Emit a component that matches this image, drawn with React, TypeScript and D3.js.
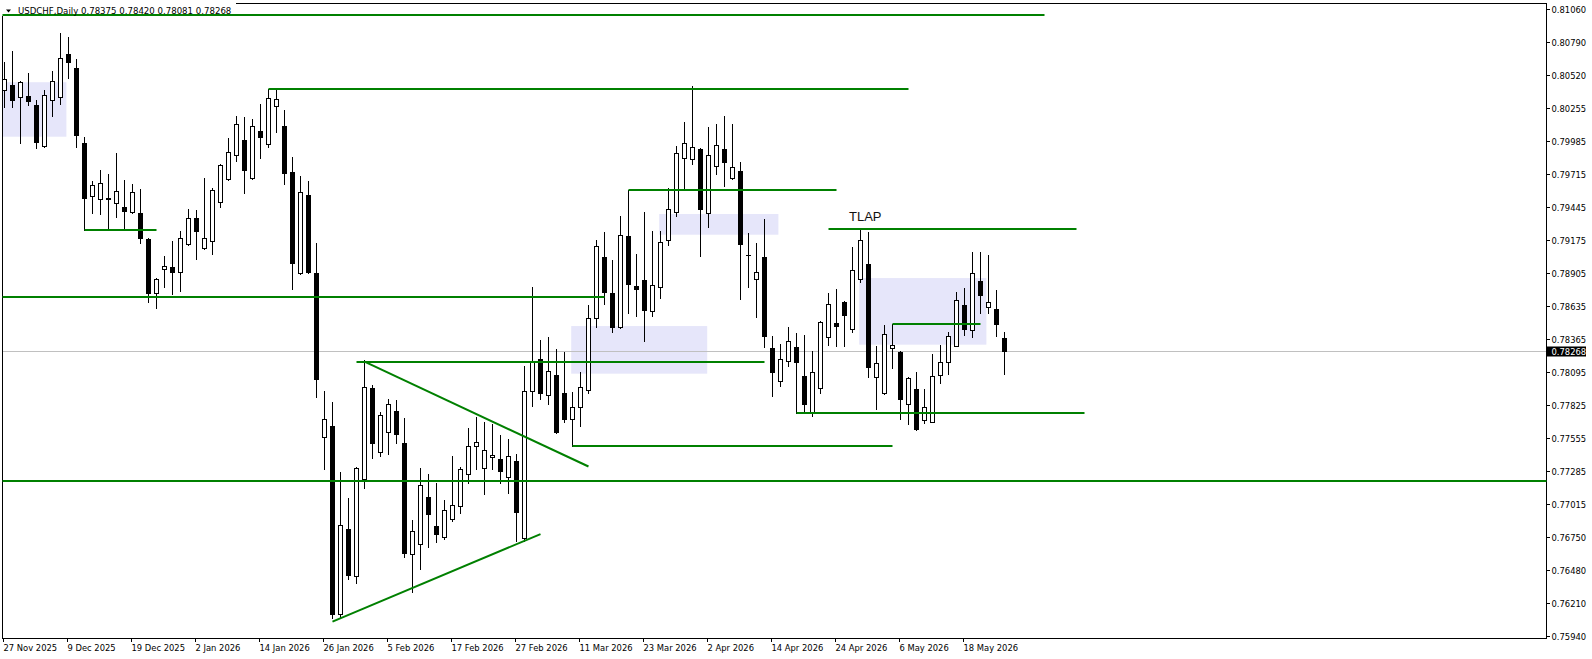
import * as d3 from "d3";

// daily USDCHF bars, oldest first (27 Nov 2025 .. 25 May 2026)
const opens = [
  0.80399, 0.8044, 0.80344, 0.8035, 0.80276, 0.79944, 0.80317, 0.80344, 0.80693, 0.80576,
  0.79963, 0.79533, 0.79509, 0.79517, 0.79473, 0.79441, 0.79405, 0.79392, 0.79179, 0.78739,
  0.78939, 0.78956, 0.78915, 0.79141, 0.79351, 0.79106, 0.79166, 0.79482, 0.79672, 0.79865,
  0.7999, 0.79678, 0.80064, 0.79955, 0.80268, 0.80105, 0.79727, 0.78907, 0.79541, 0.78902,
  0.77563, 0.77655, 0.7612, 0.76814, 0.76432, 0.7722, 0.77963, 0.7744, 0.77608, 0.77775,
  0.77516, 0.76607, 0.76689, 0.77075, 0.76838, 0.76746, 0.76898, 0.77002, 0.7726, 0.77489,
  0.77309, 0.77399, 0.77383, 0.77241, 0.77369, 0.76738, 0.77941, 0.782, 0.77906, 0.78069,
  0.77922, 0.7771, 0.77808, 0.77949, 0.78534, 0.79035, 0.78739, 0.78466, 0.79206, 0.78798,
  0.78845, 0.78592, 0.78792, 0.79171, 0.79405, 0.79841, 0.79833, 0.79914, 0.79392, 0.79776,
  0.79914, 0.79678, 0.79737, 0.79052, 0.78853, 0.79032, 0.78289, 0.78025, 0.78188, 0.78302,
  0.78063, 0.77767, 0.77963, 0.78379, 0.78494, 0.78667, 0.78445, 0.78858, 0.78978, 0.78053,
  0.77922, 0.78289, 0.78257, 0.77832, 0.77955, 0.77701, 0.7769, 0.78071, 0.7818, 0.78311,
  0.78641, 0.78439, 0.78839, 0.78624, 0.7861, 0.78375,
];
const highs = [
  0.8063, 0.8072, 0.8047, 0.80535, 0.80317, 0.80399, 0.80554, 0.80862, 0.80834, 0.80652,
  0.80017, 0.79656, 0.79745, 0.79713, 0.79882, 0.79664, 0.79631, 0.79588, 0.79188, 0.78863,
  0.79043, 0.79168, 0.7925, 0.79427, 0.79419, 0.79678, 0.79596, 0.79794, 0.80004, 0.80186,
  0.80176, 0.80159, 0.80284, 0.8041, 0.80399, 0.80235, 0.79849, 0.79696, 0.79656, 0.79147,
  0.77941, 0.77848, 0.77277, 0.77069, 0.77323, 0.78194, 0.7799, 0.77767, 0.77873, 0.77867,
  0.77718, 0.76887, 0.77309, 0.7726, 0.77187, 0.77051, 0.7741, 0.77323, 0.77636, 0.77726,
  0.7769, 0.77669, 0.77581, 0.77549, 0.77426, 0.78145, 0.78788, 0.78357, 0.78379, 0.78281,
  0.78262, 0.7793, 0.78096, 0.78643, 0.79174, 0.79237, 0.7901, 0.7937, 0.79582, 0.79059,
  0.794, 0.79247, 0.79247, 0.79596, 0.79941, 0.80135, 0.80431, 0.79928, 0.80094, 0.80121,
  0.80186, 0.80121, 0.79808, 0.79228, 0.79147, 0.79343, 0.7839, 0.78324, 0.78461, 0.78412,
  0.78398, 0.78267, 0.78512, 0.78739, 0.78771, 0.78676, 0.79114, 0.79255, 0.79242, 0.78311,
  0.7848, 0.78488, 0.78267, 0.78057, 0.78093, 0.77957, 0.7824, 0.78316, 0.78425, 0.78747,
  0.78779, 0.79073, 0.79073, 0.79051, 0.78765, 0.7842,
];
const lows = [
  0.80262, 0.80262, 0.79963, 0.80276, 0.79923, 0.79936, 0.80189, 0.80282, 0.80499, 0.79936,
  0.79255, 0.79392, 0.79386, 0.79264, 0.79359, 0.79255, 0.79392, 0.79152, 0.7867, 0.78616,
  0.78792, 0.78733, 0.7876, 0.79133, 0.79016, 0.791, 0.79059, 0.79446, 0.79664, 0.79821,
  0.7956, 0.7967, 0.79841, 0.79936, 0.80058, 0.79629, 0.78774, 0.78896, 0.78905, 0.77889,
  0.77304, 0.76085, 0.76087, 0.76405, 0.7637, 0.77146, 0.77391, 0.77412, 0.77424, 0.77514,
  0.76583, 0.76302, 0.76487, 0.76669, 0.7671, 0.7673, 0.76882, 0.76947, 0.77192, 0.77304,
  0.771, 0.77304, 0.77187, 0.7711, 0.76716, 0.76718, 0.77818, 0.77878, 0.77832, 0.776,
  0.7769, 0.77492, 0.77657, 0.77922, 0.78466, 0.78651, 0.78425, 0.78453, 0.7858, 0.78556,
  0.78351, 0.78553, 0.78703, 0.79135, 0.79372, 0.79588, 0.79792, 0.79046, 0.79282, 0.7971,
  0.79615, 0.7967, 0.78694, 0.78792, 0.78547, 0.78302, 0.77902, 0.77984, 0.78147, 0.77763,
  0.77763, 0.77739, 0.77922, 0.78316, 0.78311, 0.78311, 0.78425, 0.78833, 0.78057, 0.77791,
  0.77914, 0.78131, 0.77712, 0.77669, 0.77622, 0.77677, 0.77685, 0.78004, 0.7808, 0.78311,
  0.78398, 0.78384, 0.78575, 0.7858, 0.7839, 0.78081,
];
const closes = [
  0.80486, 0.80317, 0.80462, 0.80311, 0.79972, 0.80358, 0.80472, 0.80658, 0.80625, 0.80031,
  0.79514, 0.79623, 0.79637, 0.79506, 0.79576, 0.79413, 0.79568, 0.79188, 0.78743, 0.78853,
  0.78961, 0.78915, 0.79188, 0.79351, 0.7925, 0.79188, 0.79582, 0.79786, 0.7989, 0.80119,
  0.79745, 0.80105, 0.80017, 0.80331, 0.80323, 0.79723, 0.78988, 0.79563, 0.7891, 0.78036,
  0.7771, 0.7612, 0.76846, 0.76438, 0.77309, 0.77971, 0.77514, 0.77742, 0.77832, 0.77592,
  0.7662, 0.76795, 0.77171, 0.76939, 0.76771, 0.76967, 0.77007, 0.77301, 0.77489, 0.77524,
  0.77456, 0.77416, 0.7729, 0.77407, 0.76955, 0.77943, 0.7818, 0.77922, 0.78104, 0.77608,
  0.7771, 0.77813, 0.77971, 0.78534, 0.79125, 0.78752, 0.78466, 0.79212, 0.78817, 0.78776,
  0.78605, 0.78804, 0.79155, 0.79424, 0.79882, 0.79963, 0.79931, 0.79429, 0.79865, 0.79947,
  0.79813, 0.79767, 0.79144, 0.7905, 0.7891, 0.78392, 0.78098, 0.782, 0.78346, 0.7818,
  0.77837, 0.78093, 0.78502, 0.78649, 0.78471, 0.78564, 0.78926, 0.79171, 0.78139, 0.78167,
  0.78404, 0.78314, 0.77878, 0.78044, 0.77633, 0.77808, 0.78061, 0.78175, 0.78387, 0.78684,
  0.78449, 0.78902, 0.78727, 0.78665, 0.78485, 0.78268,
];

// one label every 8 bars
const dateLabels = [
  "27 Nov 2025", "9 Dec 2025", "19 Dec 2025", "2 Jan 2026", "14 Jan 2026", "26 Jan 2026",
  "5 Feb 2026", "17 Feb 2026", "27 Feb 2026", "11 Mar 2026", "23 Mar 2026", "2 Apr 2026",
  "14 Apr 2026", "24 Apr 2026", "6 May 2026", "18 May 2026",
];
const priceLabels = [
  "0.81060", "0.80790", "0.80520", "0.80255", "0.79985", "0.79715", "0.79445", "0.79175",
  "0.78905", "0.78635", "0.78365", "0.78095", "0.77825", "0.77555", "0.77285", "0.77015",
  "0.76750", "0.76480", "0.76210", "0.75940",
];

// chart objects: [from bar, to bar, price]; -3 / 200 = runs off the edge
const levels: [number, number, number][] = [
  [-3, 130, 0.81014],
  [33, 113, 0.80405],
  [78, 104, 0.79582],
  [103, 134, 0.79264],
  [10, 19, 0.79255],
  [-3, 75, 0.78708],
  [44, 95, 0.78178],
  [71, 111, 0.77492],
  [99, 135, 0.77763],
  [111, 122, 0.78488],
  [-3, 200, 0.77208],
];
const trendLines: [number, number, number, number][] = [
  [45, 0.7818, 73, 0.77324],
  [41, 0.76058, 67, 0.76772],
];
// [from bar, to bar, top price, bottom price]
const zones: [number, number, number, number][] = [
  [-0.2, 7.8, 0.80462, 0.80017],
  [81.9, 96.8, 0.79386, 0.79217],
  [70.9, 87.9, 0.78471, 0.78082],
  [106.9, 122.8, 0.78863, 0.78319],
];

const lastPrice = 0.78268;
const symbolTitle = "USDCHF,Daily  0.78375 0.78420 0.78081 0.78268";

const W = 1592;
const H = 659;
const left = 2.5;
const top = 3.5;
const right = 1546.5;
const bottom = 638.5;
const font = "'DejaVu Sans', Verdana, sans-serif";

export default function App() {
  const n = opens.length;
  const x = d3.scaleLinear().domain([0, 1]).range([4, 12]);
  const y = d3.scaleLinear().domain([0.7594, 0.8106]).range([636, 9]);
  const yTick = d3.scalePoint<string>().domain(priceLabels).range([9, 636]);

  const candles = d3.range(n).map((i) => {
    const cx = Math.round(x(i));
    const o = opens[i];
    const c = closes[i];
    const yt = Math.round(y(Math.max(o, c)));
    const yb = Math.round(y(Math.min(o, c)));
    const yh = Math.round(y(highs[i]));
    const yl = Math.round(y(lows[i]));
    const up = c > o;
    return (
      <g key={i}>
        <line x1={cx + 0.5} x2={cx + 0.5} y1={yh} y2={yl + 1} stroke="#000" />
        {up ? (
          <rect x={cx - 1.5} y={yt + 0.5} width={4} height={Math.max(1, yb - yt)} fill="#fff" stroke="#000" />
        ) : (
          <rect x={cx - 2} y={yt} width={5} height={Math.max(1, yb - yt + 1)} fill="#000" />
        )}
      </g>
    );
  });

  const yp = Math.round(y(lastPrice)) + 0.5;

  return (
    <svg
      width={W}
      height={H}
      style={{ position: "absolute", left: 0, top: 0, background: "#fff" }}
    >
      <defs>
        <clipPath id="plot">
          <rect x={left} y={top} width={right - left} height={bottom - top} />
        </clipPath>
      </defs>
      <rect x={0} y={0} width={W} height={H} fill="#fff" />
      <g clipPath="url(#plot)">
        {zones.map(([a, b, p1, p2], i) => (
          <rect
            key={i}
            x={x(a)}
            y={y(p1)}
            width={x(b) - x(a)}
            height={y(p2) - y(p1)}
            fill="#E6E6FA"
          />
        ))}
        <line x1={left} x2={right} y1={yp} y2={yp} stroke="#C0C0C0" />
        {candles}
      </g>
      <rect x={left} y={top} width={right - left} height={bottom - top} fill="none" stroke="#000" />
      {/* title box hides the frame corner */}
      <rect x={0} y={0} width={236} height={16} fill="#fff" />
      <g clipPath="url(#plot)">
        {levels.map(([a, b, p], i) => (
          <line
            key={i}
            x1={x(a) + 0.5}
            x2={x(b) + 0.5}
            y1={Math.round(y(p))}
            y2={Math.round(y(p))}
            stroke="#008000"
            strokeWidth={2}
          />
        ))}
        {trendLines.map(([a, p1, b, p2], i) => (
          <line
            key={i}
            x1={x(a) + 0.5}
            y1={y(p1)}
            x2={x(b) + 0.5}
            y2={y(p2)}
            stroke="#008000"
            strokeWidth={2}
          />
        ))}
        <text x={849} y={221} fontFamily="'Liberation Sans', Arial, sans-serif" fontSize={13} fill="#111">
          TLAP
        </text>
      </g>

      {/* title */}
      <path d="M6,9.5 L11,9.5 L8.5,12.5 Z" fill="#000" />
      <text x={18} y={13.5} fontFamily={font} fontSize={8.6} fill="#000">
        {symbolTitle}
      </text>

      {/* price axis */}
      {priceLabels.map((lab) => {
        const ty = Math.round(yTick(lab)!) + 0.5;
        return (
          <g key={lab}>
            <line x1={right} x2={right + 3.5} y1={ty} y2={ty} stroke="#000" />
            <text x={right + 5} y={ty + 3} fontFamily={font} fontSize={8.4} fill="#000">
              {lab}
            </text>
          </g>
        );
      })}
      <rect x={right + 0.5} y={yp - 5} width={39} height={10} fill="#000" />
      <text x={right + 5} y={yp + 3} fontFamily={font} fontSize={8.4} fill="#fff">
        {lastPrice.toFixed(5)}
      </text>

      {/* time axis */}
      {dateLabels.map((lab, k) => {
        const tx = Math.round(x(k * 8)) - 0.5;
        return (
          <g key={lab}>
            <line x1={tx} x2={tx} y1={bottom} y2={bottom + 3.5} stroke="#000" />
            <text x={tx} y={651} fontFamily={font} fontSize={8.4} fill="#000">
              {lab}
            </text>
          </g>
        );
      })}
    </svg>
  );
}
